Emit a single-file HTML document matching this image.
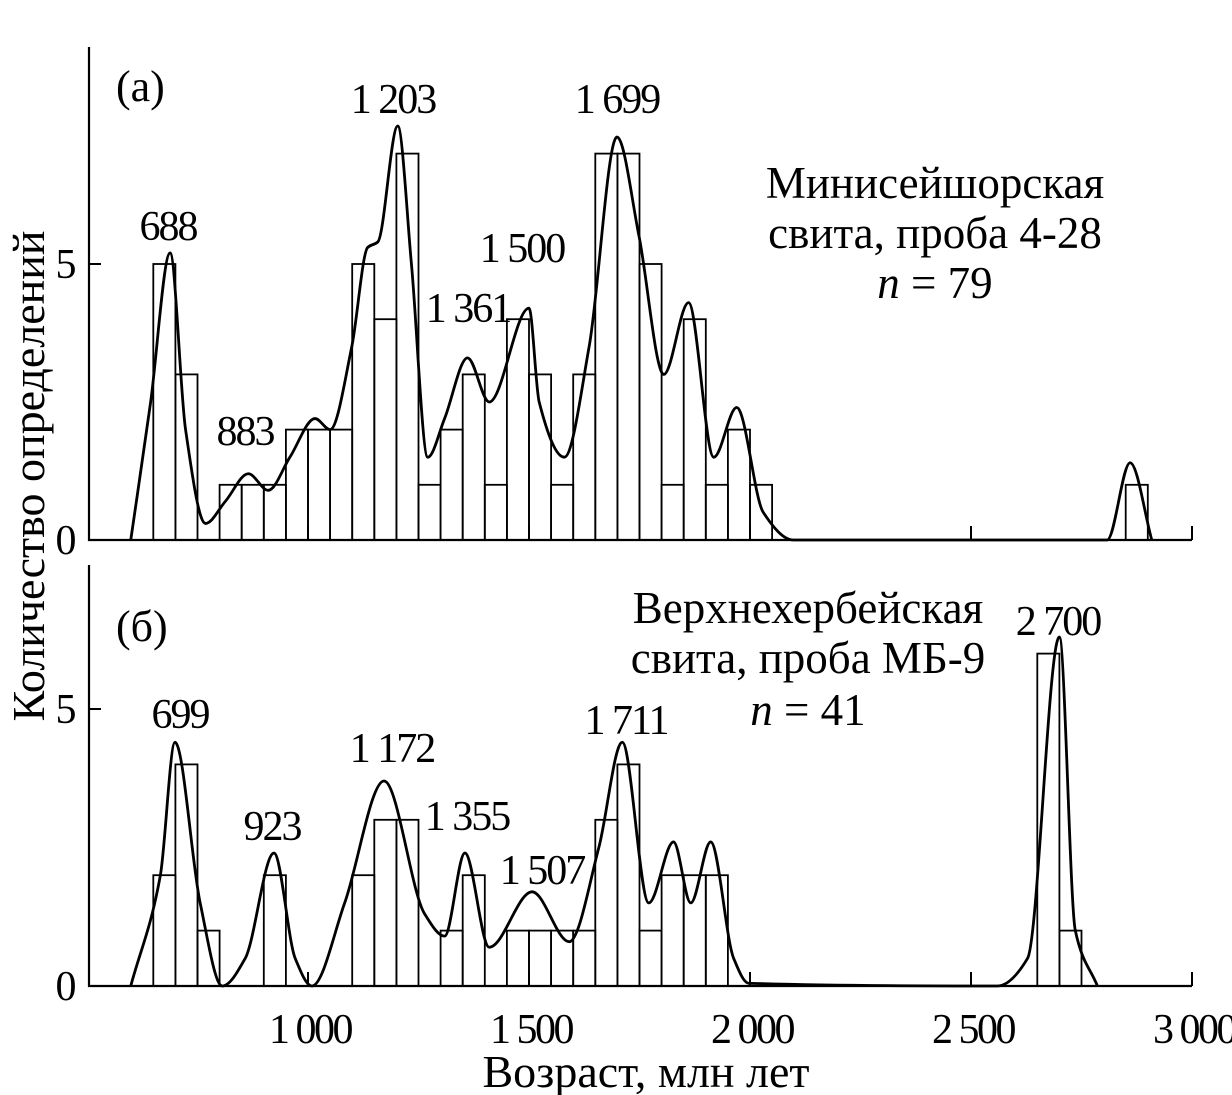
<!DOCTYPE html>
<html><head><meta charset="utf-8">
<style>
html,body{margin:0;padding:0;background:#fff;}
svg{display:block;font-family:"Liberation Serif",serif;}
text{fill:#000;}
</style></head>
<body>
<svg id="chart" width="1232" height="1095" viewBox="0 0 1232 1095" xmlns="http://www.w3.org/2000/svg">
<g id="axes"></g>
<g id="marks"></g>
<g id="labels" font-size="44"></g>
</svg>
<script>
// ---- data ----
const binStart = 650;
const binWidth = 50;
const countsA = [5,3,0,1,1,1,2,2,2,5,4,7,1,2,3,1,4,3,1,3,7,7,5,1,4,1,2,1];
const extraBinsA = [2850];
const extraCountsA = [1];
const countsB = [2,4,1,0,0,2,0,0,0,2,3,3,0,1,2,0,1,1,1,1,3,4,1,2,2,2];
const extraBinsB = [2650,2700];
const extraCountsB = [6,1];
const kdeAgesA = [599,644,688,723,768,813,865,910,959,1016,1050,1099,1135,1158,1203,1234,1271,1309,1361,1410,1500,1523,1580,1636,1699,1749,1805,1861,1918,1970,2030,2098,2808,2860,2909];
const kdeValsA = [0,2.5,5.2,2,0.3,0.7,1.2,0.9,1.5,2.2,2.0,3.5,5.3,5.4,7.5,5,1.5,2.2,3.3,2.5,4.2,2.5,1.5,3.5,7.3,5.5,3,4.3,1.5,2.4,0.5,0,0,1.4,0];
const kdeAgesB = [599,666,699,756,806,858,923,971,1009,1083,1172,1264,1309,1355,1410,1507,1591,1658,1711,1771,1827,1866,1911,1963,1997,2560,2628,2700,2736,2786];
const kdeValsB = [0,2,4.4,1.5,0,0.5,2.4,0.5,0,1.5,3.7,1.3,0.9,2.4,0.7,1.7,0.8,2.5,4.4,1.5,2.6,1.5,2.6,0.5,0.05,0,0.5,6.3,1,0];
const peaksA = ["688","883","1 203","1 361","1 500","1 699"];
const peaksB = ["699","923","1 172","1 355","1 507","1 711","2 700"];
const xTicks = [1000,1500,2000,2500,3000];
const xTickLabels = ["1 000","1 500","2 000","2 500","3 000"];
const yTicks = [0,5];

// ---- scales ----
const x = v => 308 + (v-1000)*0.442;
const yA = v => 540 - v*55.2;
const yB = v => 986 - v*55.4;
const NS="http://www.w3.org/2000/svg";
const axes=document.getElementById('axes'), marks=document.getElementById('marks'), labels=document.getElementById('labels');
function mk(tag, attrs, parent){const e=document.createElementNS(NS,tag);for(const k in attrs)e.setAttribute(k,attrs[k]);parent.appendChild(e);return e;}
function txt(s,xx,yy,anchor,parent,name,size,ls){const t=mk('text',{x:xx,y:yy,'text-anchor':anchor||'middle'},parent);if(size)t.setAttribute('font-size',size);if(ls)t.setAttribute('letter-spacing',ls);t.textContent=s;


return t;}

// monotone cubic (Fritsch-Carlson) path
function monoPath(P){
  const n=P.length, dx=[], m=[], t=[];
  for(let i=0;i<n-1;i++){dx.push(P[i+1][0]-P[i][0]);m.push((P[i+1][1]-P[i][1])/dx[i]);}
  t[0]=m[0]; t[n-1]=m[n-2];
  for(let i=1;i<n-1;i++){ if(m[i-1]*m[i]<=0) t[i]=0; else { const w1=2*dx[i]+dx[i-1], w2=dx[i]+2*dx[i-1]; t[i]=(w1+w2)/(w1/m[i-1]+w2/m[i]); } }
  let d=`M${P[0][0]} ${P[0][1]}`;
  for(let i=0;i<n-1;i++){
    const h=dx[i]/3;
    d+=` C${P[i][0]+h} ${P[i][1]+t[i]*h} ${P[i+1][0]-h} ${P[i+1][1]-t[i+1]*h} ${P[i+1][0]} ${P[i+1][1]}`;
  }
  return d;
}

function panel(y, top, counts, eBins, eCounts, ages, vals, tag){
  const ax=mk('path',{d:`M89 ${top} V${y(0)} H1192`,fill:'none',stroke:'#000','stroke-width':2.2},axes);
  
  
  xTicks.forEach(t=>{const l=mk('line',{x1:x(t),x2:x(t),y1:y(0),y2:y(0)-14,stroke:'#000','stroke-width':2},axes);
    
    });
  yTicks.forEach(t=>{const l=mk('line',{x1:89,x2:101,y1:y(t),y2:y(t),stroke:'#000','stroke-width':2},axes);
    
    
    txt(String(t),66,y(t)+14,'middle',labels,'y-tick-label-'+tag,42);});
  const allB=counts.map((c,i)=>[binStart+i*binWidth,c]).concat(eBins.map((b,i)=>[b,eCounts[i]]));
  allB.forEach(([b,c])=>{ if(!c) return;
    const r=mk('rect',{x:x(b),y:y(c),width:x(b+binWidth)-x(b),height:y(0)-y(c),fill:'none',stroke:'#000','stroke-width':1.8},marks);
    
    });
  const P=ages.map((a,i)=>[x(a),y(vals[i])]);
  const c=mk('path',{d:monoPath(P),fill:'none',stroke:'#000','stroke-width':2.8},marks);
  
  
}
panel(yA,47,countsA,extraBinsA,extraCountsA,kdeAgesA,kdeValsA,'a');
panel(yB,565,countsB,extraBinsB,extraCountsB,kdeAgesB,kdeValsB,'b');

xTicks.forEach((t,i)=>txt(xTickLabels[i],x(t)+2,1043,'middle',labels,'x-tick-label',42,-2.5));

const posA=[[168,240],[245,445],[393,113],[468,322],[522,262],[617,113]];
peaksA.forEach((s,i)=>txt(s,posA[i][0],posA[i][1],'middle',labels,'peak-label-a',42,-2));
const posB=[[180,728],[272,840],[392,762],[467,830],[542,884],[626,734],[1058,635]];
peaksB.forEach((s,i)=>txt(s,posB[i][0],posB[i][1],'middle',labels,'peak-label-b',42,-2));
txt('(а)',116,101,'start',labels,'panel-label-a');
txt('(б)',116,641,'start',labels,'panel-label-b');
txt('Минисейшорская',935,198,'middle',labels,'legend-title-a',45);
txt('свита, проба 4-28',935,248,'middle',labels,'legend-sample-a',45);
const nA=txt('',935,298,'middle',labels,'legend-n-a',45);
nA.innerHTML='<tspan font-style="italic">n</tspan> = 79';
txt('Верхнехербейская',808,623,'middle',labels,'legend-title-b',45);
txt('свита, проба МБ-9',808,673,'middle',labels,'legend-sample-b',45);
const nB=txt('',808,725,'middle',labels,'legend-n-b',45);
nB.innerHTML='<tspan font-style="italic">n</tspan> = 41';
txt('Возраст, млн лет',646,1087,'middle',labels,'x-axis-title',46);
const yt=txt('Количество определений',0,0,'middle',labels,'y-axis-title',46);
yt.setAttribute('transform','translate(44,476) rotate(-90)');
</script>
</body></html>
